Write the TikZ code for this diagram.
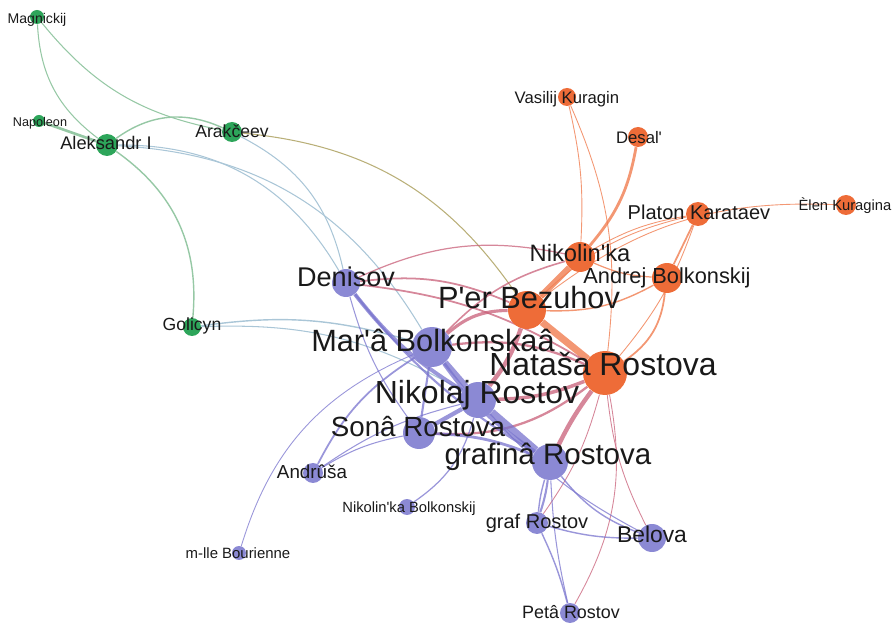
\documentclass[tikz,border=0pt]{standalone}
\usepackage{fontspec}
\setmainfont{Liberation Sans}
\usetikzlibrary{backgrounds}
\definecolor{grnode}{RGB}{45,165,90}
\definecolor{ornode}{RGB}{238,108,56}
\definecolor{prnode}{RGB}{139,137,212}
\definecolor{gredge}{RGB}{150,200,165}
\definecolor{bledge}{RGB}{170,198,215}
\definecolor{oledge}{RGB}{185,175,120}
\definecolor{oredge}{RGB}{240,125,80}
\definecolor{pkedge}{RGB}{200,95,120}
\definecolor{predge}{RGB}{120,115,205}
\definecolor{lbltext}{RGB}{25,25,25}
\newcommand{\apo}{\textquotesingle}

\begin{document}
\begin{tikzpicture}[
x=0.02cm,y=-0.02cm,
vtx/.style={circle,draw=none,inner sep=0pt,minimum size=#1*0.04cm},
grn/.style={vtx=#1,fill=grnode},
org/.style={vtx=#1,fill=ornode},
prp/.style={vtx=#1,fill=prnode},
lbl/.style={text=lbltext,inner sep=0pt,text depth=0pt,
  font=\fontsize{#1}{#1}\selectfont,text height=0.72em},
ge/.style={draw=gredge,line width=#1pt},
oe/.style={draw=oledge,line width=#1pt},
be/.style={draw=bledge,line width=#1pt},
re/.style={draw=oredge,line width=#1pt,opacity=0.8},
pe/.style={draw=pkedge,line width=#1pt,opacity=0.75},
ve/.style={draw=predge,line width=#1pt,opacity=0.75}
]
\useasboundingbox (0,0) rectangle (896,624);

% vertices
\node[grn=7] (mag) at (37,17) {};
\node[grn=6] (nap) at (39,121) {};
\node[grn=11] (alex) at (107,145) {};
\node[grn=10] (arak) at (232,132) {};
\node[grn=9] (gol) at (192,327) {};
\node[org=9] (vas) at (567,97) {};
\node[org=10] (des) at (638,137) {};
\node[org=12] (plat) at (698,214) {};
\node[org=10] (elen) at (846,205) {};
\node[org=15] (nikk) at (580,257) {};
\node[org=15] (andr) at (667,278) {};
\node[org=19] (pier) at (527,310) {};
\node[org=22] (nat) at (605,373) {};
\node[prp=20] (mar) at (432,347) {};
\node[prp=14] (den) at (346,283) {};
\node[prp=18] (nikr) at (478,400) {};
\node[prp=16] (sona) at (419,433) {};
\node[prp=18] (grafina) at (550,462) {};
\node[prp=10] (andru) at (313,473) {};
\node[prp=8] (nikb) at (407,507) {};
\node[prp=11] (graf) at (537,523) {};
\node[prp=14] (bel) at (652,538) {};
\node[prp=10] (peta) at (570,613) {};
\node[prp=7] (mlle) at (239,553) {};

% edges
\begin{scope}[on background layer]
\foreach \a/\b/\w/\bb in {mag/alex/0.6/-25, mag/arak/0.6/-20, nap/alex/1.5/0,
  alex/arak/0.8/30, alex/gol/0.8/30}
  \draw[ge=\w] (\a) to[bend left=\bb] (\b);
\draw[oe=0.6] (arak) to[bend left=25] (pier);
\foreach \a/\b/\w/\bb in {alex/den/0.6/30, alex/mar/0.6/28, arak/den/0.6/25,
  gol/mar/0.8/12, gol/nikr/0.6/16}
  \draw[be=\w] (\a) to[bend left=\bb] (\b);
\foreach \a/\b/\w/\bb in {vas/nikk/0.5/8, vas/nat/0.5/15, des/nikk/1.6/15,
  plat/pier/0.5/-15, plat/nikk/0.5/-10, plat/nat/0.5/10, plat/andr/1/0,
  elen/pier/0.5/-20, nikk/pier/3.5/0, pier/nat/4/0, andr/pier/0.8/15,
  andr/nat/1/25, andr/nikk/0.7/10}
  \draw[re=\w] (\a) to[bend left=\bb] (\b);
\foreach \a/\b/\w/\bb in {pier/nikr/2.5/10, mar/pier/1.8/20, nikr/nat/2/-10,
  grafina/nat/2.5/5, sona/nat/1.3/-20, mar/nat/1.3/15, den/pier/1/15,
  den/nat/1/12, mar/nikk/0.9/15, den/nikk/0.7/18, nat/bel/0.5/-10,
  nat/peta/0.5/20, nat/graf/0.5/10}
  \draw[pe=\w] (\a) to[bend left=\bb] (\b);
\foreach \a/\b/\w/\bb in {den/nikr/2.2/-10, den/grafina/1.2/-10, den/sona/0.6/-10,
  mar/nikr/3.2/0, mar/grafina/2.2/-10, mar/sona/1.2/0, nikr/sona/2.4/0,
  nikr/grafina/4/0, sona/grafina/1.6/10, grafina/graf/1.2/5, grafina/graf/0.8/-5,
  graf/peta/0.8/5, grafina/peta/0.6/-5, grafina/bel/0.8/-15, graf/bel/0.8/-8,
  nikr/bel/0.6/-10, andru/mar/1/15, andru/nikr/0.6/10, andru/sona/0.6/10,
  mlle/mar/0.5/25, nikb/nikr/0.7/-20}
  \draw[ve=\w] (\a) to[bend left=\bb] (\b);
\end{scope}

% labels
\node[lbl=8] (mag-l) at (37,17) {Magnickij};
\node[lbl=7.2] (nap-l) at (40,120) {Napoleon};
\node[lbl=10.4] (alex-l) at (106,143) {Aleksandr I};
\node[lbl=10] (arak-l) at (232,131) {Arakčeev};
\node[lbl=10] (gol-l) at (192,324) {Golicyn};
\node[lbl=9.5] (vas-l) at (567,97) {Vasilij Kuragin};
\node[lbl=9.5] (des-l) at (639,137) {Desal\apo};
\node[lbl=11.4] (plat-l) at (699,213) {Platon Karataev};
\node[lbl=8.4] (elen-l) at (845,204) {Èlen Kuragina};
\node[lbl=13.5] (nikk-l) at (580,255) {Nikolin\apo ka};
\node[lbl=12.4] (andr-l) at (667,277) {Andrej Bolkonskij};
\node[lbl=17.5] (pier-l) at (529,302) {P\apo er Bezuhov};
\node[lbl=18.2] (nat-l) at (603,369) {Nataša Rostova};
\node[lbl=17.5] (mar-l) at (433,345) {Mar\apo â Bolkonskaâ};
\node[lbl=15.4] (den-l) at (346,280) {Denisov};
\node[lbl=18.2] (nikr-l) at (477,397) {Nikolaj Rostov};
\node[lbl=15.8] (sona-l) at (418,430) {Sonâ Rostova};
\node[lbl=16.8] (grafina-l) at (548,458) {grafinâ Rostova};
\node[lbl=10.7] (andru-l) at (312,472) {Andrûša};
\node[lbl=8.4] (nikb-l) at (409,506) {Nikolin\apo ka Bolkonskij};
\node[lbl=11.4] (graf-l) at (537,522) {graf Rostov};
\node[lbl=13] (bel-l) at (652,536) {Belova};
\node[lbl=10.2] (peta-l) at (571,612) {Petâ Rostov};
\node[lbl=8.5] (mlle-l) at (238,552) {m-lle Bourienne};
\end{tikzpicture}
\end{document}
